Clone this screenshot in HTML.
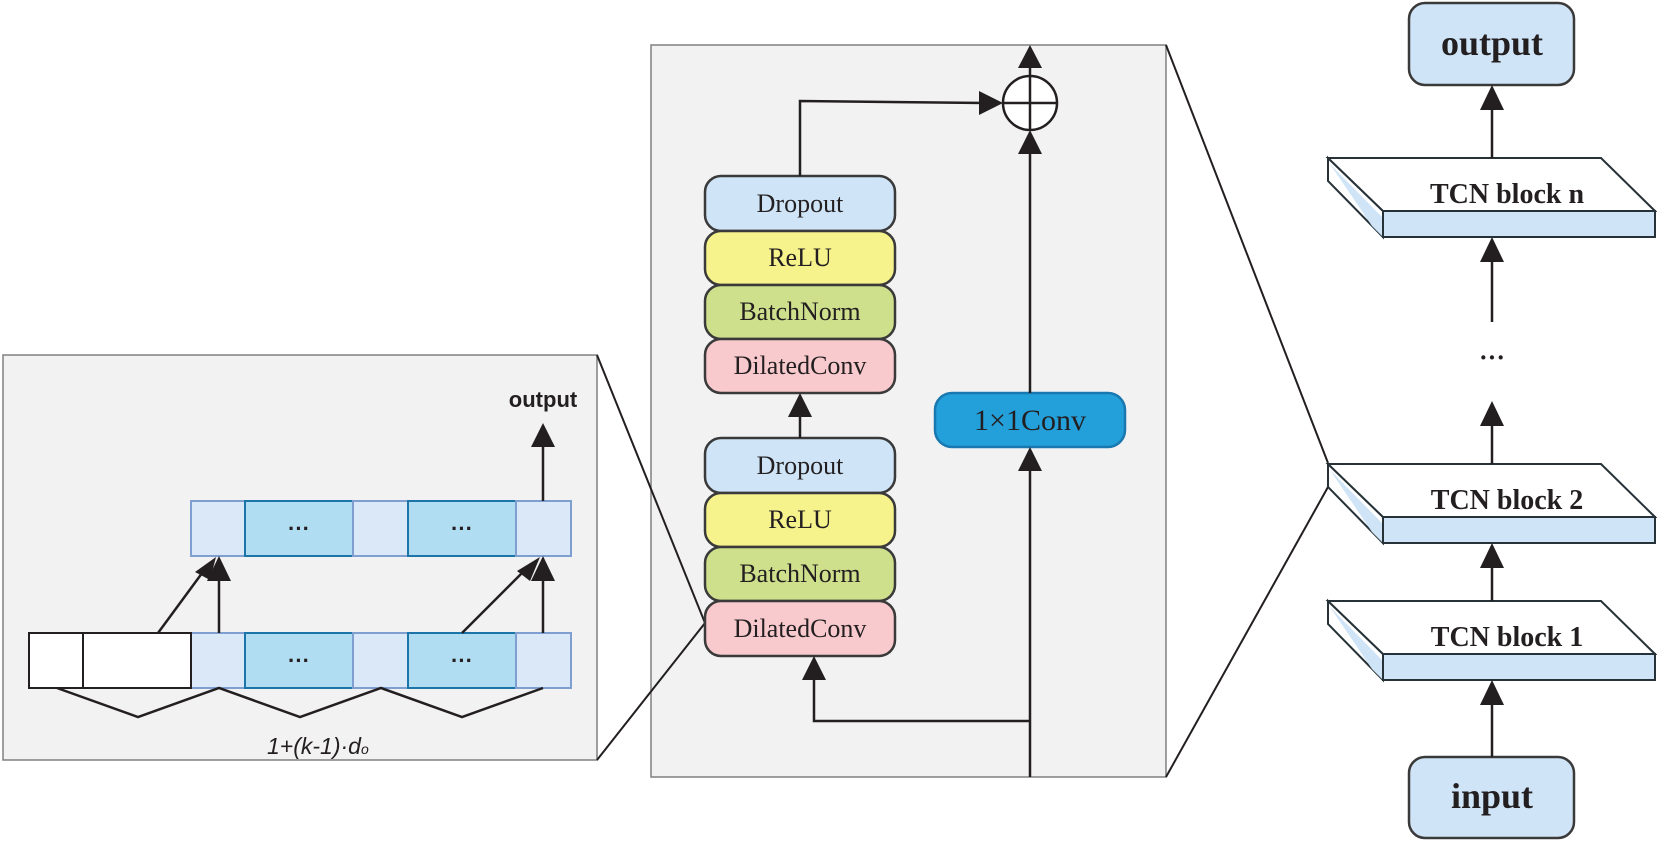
<!DOCTYPE html>
<html><head><meta charset="utf-8"><style>
html,body{margin:0;padding:0;background:#fff;width:1657px;height:841px;overflow:hidden}
svg{display:block}
.s{font-family:"Liberation Serif",serif;fill:#231f20}
</style></head><body>
<svg width="1657" height="841" viewBox="0 0 1657 841" xmlns="http://www.w3.org/2000/svg">
<!-- left panel -->
<rect x="3" y="355" width="594" height="405" fill="#f2f2f2" stroke="#808080" stroke-width="1.5"/>
<text x="543" y="407" text-anchor="middle" font-family="Liberation Sans,sans-serif" font-weight="bold" font-size="22" fill="#231f20">output</text>
<g stroke-width="2">
<rect x="191" y="501" width="54" height="55" fill="#dae8f7" stroke="#7f9fd0"/>
<rect x="245" y="501" width="108" height="55" fill="#b0ddf1" stroke="#1c75a8"/>
<rect x="353" y="501" width="55" height="55" fill="#dae8f7" stroke="#7f9fd0"/>
<rect x="408" y="501" width="108" height="55" fill="#b0ddf1" stroke="#1c75a8"/>
<rect x="516" y="501" width="55" height="55" fill="#dae8f7" stroke="#7f9fd0"/>
<rect x="191" y="633" width="54" height="55" fill="#dae8f7" stroke="#7f9fd0"/>
<rect x="245" y="633" width="108" height="55" fill="#b0ddf1" stroke="#1c75a8"/>
<rect x="353" y="633" width="55" height="55" fill="#dae8f7" stroke="#7f9fd0"/>
<rect x="408" y="633" width="108" height="55" fill="#b0ddf1" stroke="#1c75a8"/>
<rect x="516" y="633" width="55" height="55" fill="#dae8f7" stroke="#7f9fd0"/>
<rect x="29" y="633" width="54" height="55" fill="#fff" stroke="#231f20"/>
<rect x="83" y="633" width="108" height="55" fill="#fff" stroke="#231f20"/>
</g>
<g font-family="Liberation Sans,sans-serif" font-size="22" fill="#231f20" text-anchor="middle" font-weight="bold">
<text x="299" y="536">···</text><text x="462" y="536">···</text>
<text x="299" y="668">···</text><text x="462" y="668">···</text>
</g>
<g stroke="#231f20" stroke-width="2.5" fill="none">
<line x1="543" y1="501" x2="543" y2="430"/>
<line x1="219" y1="633" x2="219" y2="565"/>
<line x1="158" y1="633" x2="208" y2="565"/>
<line x1="543" y1="633" x2="543" y2="565"/>
<line x1="462" y1="633" x2="530" y2="565"/>
<polyline points="57,688 138,717 219,688 300,717 381,688 462,717 543,688"/>
</g>
<g fill="#231f20">
<polygon points="543,423 531,447 555,447"/>
<polygon points="219,556 207,581 231,581"/>
<polygon points="216,557 195,572 210,580"/>
<polygon points="543,556 531,581 555,581"/>
<polygon points="540,557 517,571 530,581"/>
</g>
<text x="267" y="754" font-family="Liberation Sans,sans-serif" font-style="italic" font-size="23" fill="#231f20">1+(k-1)·d<tspan font-size="14">o</tspan></text>
<!-- middle panel -->
<rect x="651" y="45" width="515" height="732" fill="#f2f2f2" stroke="#808080" stroke-width="1.5"/>
<!-- connectors left to middle (over panel) -->
<g stroke="#231f20" stroke-width="2" fill="none">
<line x1="597" y1="355" x2="705" y2="623"/>
<line x1="597" y1="760" x2="705" y2="623"/>
</g>
<g stroke="#3a3a3a" stroke-width="2.5">
<rect x="705" y="176" width="190" height="55" rx="16" fill="#cfe5f7"/>
<rect x="705" y="231" width="190" height="54" rx="16" fill="#f6f28c"/>
<rect x="705" y="285" width="190" height="54" rx="16" fill="#cfe08c"/>
<rect x="705" y="339" width="190" height="54" rx="16" fill="#f8cacd"/>
<rect x="705" y="438" width="190" height="55" rx="16" fill="#cfe5f7"/>
<rect x="705" y="493" width="190" height="54" rx="16" fill="#f6f28c"/>
<rect x="705" y="547" width="190" height="54" rx="16" fill="#cfe08c"/>
<rect x="705" y="601" width="190" height="55" rx="16" fill="#f8cacd"/>
</g>
<rect x="935" y="393" width="190" height="54" rx="17" fill="#239fda" stroke="#1a78b0" stroke-width="2.5"/>
<g class="s" font-size="26" text-anchor="middle">
<text x="800" y="212">Dropout</text>
<text x="800" y="266">ReLU</text>
<text x="800" y="320">BatchNorm</text>
<text x="800" y="374">DilatedConv</text>
<text x="800" y="474">Dropout</text>
<text x="800" y="528">ReLU</text>
<text x="800" y="582">BatchNorm</text>
<text x="800" y="637">DilatedConv</text>
<text x="1030" y="430" font-size="30">1×1Conv</text>
</g>
<g stroke="#231f20" stroke-width="2.5" fill="none">
<line x1="800" y1="438" x2="800" y2="410"/>
<polyline points="800,176 800,101 985,103"/>
<circle cx="1030" cy="103" r="27" fill="#fff"/>
<line x1="1030" y1="76" x2="1030" y2="130"/>
<line x1="1003" y1="103" x2="1057" y2="103"/>
<line x1="1030" y1="76" x2="1030" y2="60"/>
<line x1="1030" y1="393" x2="1030" y2="145"/>
<line x1="1030" y1="777" x2="1030" y2="462"/>
<polyline points="1030,721 814,721 814,672"/>
</g>
<g fill="#231f20">
<polygon points="800,393 788,417 812,417"/>
<polygon points="1003,103 979,91 979,115"/>
<polygon points="1030,45 1018,68 1042,68"/>
<polygon points="1030,130 1018,154 1042,154"/>
<polygon points="1030,447 1018,471 1042,471"/>
<polygon points="814,656 802,680 826,680"/>
</g>
<g stroke="#231f20" stroke-width="2" fill="none">
<line x1="1166" y1="45" x2="1328" y2="463"/>
<line x1="1166" y1="777" x2="1328" y2="487"/>
</g>
<!-- right column -->
<rect x="1409" y="3" width="165" height="82" rx="16" fill="#cfe5f7" stroke="#3a3a3a" stroke-width="2.5"/>
<text x="1492" y="55" class="s" font-weight="bold" font-size="36" text-anchor="middle">output</text>
<rect x="1409" y="757" width="165" height="81" rx="16" fill="#cfe5f7" stroke="#3a3a3a" stroke-width="2.5"/>
<text x="1492" y="808" class="s" font-weight="bold" font-size="36" text-anchor="middle">input</text>
<g stroke="#263238" stroke-width="2">
<g>
<polygon points="1328,158 1383,211 1383,237 1328,181" fill="#fff"/>
<polygon points="1330,164 1383,218 1383,237 1372,226" fill="#cfe5f7" stroke="none"/>
<polygon points="1328,158 1601,158 1655,211 1383,211" fill="#fff"/>
<rect x="1383" y="211" width="272" height="26" fill="#cfe5f7"/>
</g>
<g transform="translate(0,306)">
<polygon points="1328,158 1383,211 1383,237 1328,181" fill="#fff"/>
<polygon points="1330,164 1383,218 1383,237 1372,226" fill="#cfe5f7" stroke="none"/>
<polygon points="1328,158 1601,158 1655,211 1383,211" fill="#fff"/>
<rect x="1383" y="211" width="272" height="26" fill="#cfe5f7"/>
</g>
<g transform="translate(0,443)">
<polygon points="1328,158 1383,211 1383,237 1328,181" fill="#fff"/>
<polygon points="1330,164 1383,218 1383,237 1372,226" fill="#cfe5f7" stroke="none"/>
<polygon points="1328,158 1601,158 1655,211 1383,211" fill="#fff"/>
<rect x="1383" y="211" width="272" height="26" fill="#cfe5f7"/>
</g>
</g>
<g class="s" font-weight="bold" font-size="28" text-anchor="middle">
<text x="1507" y="203">TCN block n</text>
<text x="1507" y="509">TCN block 2</text>
<text x="1507" y="646">TCN block 1</text>
<text x="1492" y="366" font-size="26">···</text>
</g>
<g stroke="#231f20" stroke-width="2.5">
<line x1="1492" y1="158" x2="1492" y2="105"/>
<line x1="1492" y1="322" x2="1492" y2="255"/>
<line x1="1492" y1="464" x2="1492" y2="420"/>
<line x1="1492" y1="601" x2="1492" y2="560"/>
<line x1="1492" y1="757" x2="1492" y2="698"/>
</g>
<g fill="#231f20">
<polygon points="1492,85 1480,110 1504,110"/>
<polygon points="1492,237 1480,262 1504,262"/>
<polygon points="1492,401 1480,426 1504,426"/>
<polygon points="1492,543 1480,568 1504,568"/>
<polygon points="1492,680 1480,705 1504,705"/>
</g>
</svg>
</body></html>
